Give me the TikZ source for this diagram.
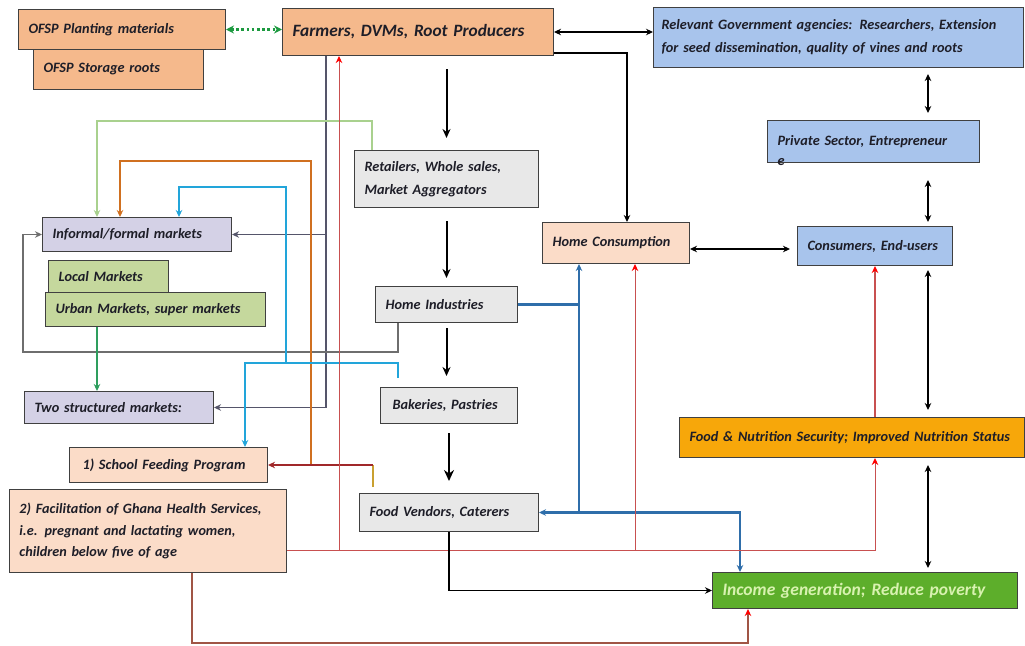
\documentclass[tikz,border=0pt]{standalone}
\usepackage{fontspec}
\setmainfont{Carlito}
\usetikzlibrary{shapes, arrows.meta}

\definecolor{boxline}{HTML}{404040}
\definecolor{boxtext}{HTML}{1E1E28}
\definecolor{peachfill}{HTML}{F5B98C}
\definecolor{lightpeach}{HTML}{FBDCC8}
\definecolor{bluefill}{HTML}{A8C4EC}
\definecolor{lavender}{HTML}{D4D1E6}
\definecolor{leaf}{HTML}{C5D89D}
\definecolor{greyfill}{HTML}{E8E8E8}
\definecolor{foodfill}{HTML}{F7A70A}
\definecolor{incomefill}{HTML}{5DAE2B}
\definecolor{incometext}{HTML}{D8F2B0}
\definecolor{slate}{HTML}{55556A}
\definecolor{loopgrey}{HTML}{6E6E6E}
\definecolor{lgreen}{HTML}{A9D18E}
\definecolor{dgreen}{HTML}{2E9E5E}
\definecolor{dotgreen}{HTML}{1D9A40}
\definecolor{orline}{HTML}{D07020}
\definecolor{goldline}{HTML}{C9A030}
\definecolor{darkred}{HTML}{A0282A}
\definecolor{cyanline}{HTML}{22A5DA}
\definecolor{blueline}{HTML}{2F6EAA}
\definecolor{redline}{HTML}{C85050}
\definecolor{brownline}{HTML}{A05545}

\tikzstyle{box} = [rectangle, draw=boxline, line width=1pt, anchor=north west, align=left, inner xsep=10pt, inner ysep=2pt, text=boxtext, font=\fontsize{14.3}{22}\selectfont\bfseries\itshape]
\tikzstyle{peachbox} = [box, fill=peachfill]
\tikzstyle{homebox} = [box, fill=lightpeach]
\tikzstyle{bluebox} = [box, fill=bluefill]
\tikzstyle{marketbox} = [box, fill=lavender]
\tikzstyle{leafbox} = [box, fill=leaf]
\tikzstyle{greybox} = [box, fill=greyfill]
\tikzstyle{link} = [line width=1.1pt, draw=black]
\tikzstyle{arrow} = [link, ->]
\tikzstyle{both} = [link, <->]
\tikzstyle{flow} = [draw=black, line width=2pt, -{Stealth[length=9pt,width=8pt]}]

\begin{document}
\begin{tikzpicture}[x=1pt, y=-1pt, >={Stealth[length=7pt,width=6.5pt]}]
    \useasboundingbox (0,0) rectangle (1025,645);

    % Nodes
    \node (planting) [peachbox, text width=187pt, minimum height=40pt] at (18,9) {OFSP Planting materials};
    \node (storage) [peachbox, text width=150pt, minimum height=40pt] at (33,49) {OFSP Storage roots};
    \node (farmers) [peachbox, text width=251pt, minimum height=47pt, font=\fontsize{17.3}{22}\selectfont\bfseries\itshape] at (282,8) {Farmers, DVMs, Root Producers};
    \node (gov) [bluebox, inner xsep=8pt, text width=354pt, minimum height=60pt, font=\fontsize{14.3}{23}\selectfont\bfseries\itshape] at (653,7) {Relevant Government agencies: Researchers, Extension\\for seed dissemination, quality of vines and roots};
    \node (private) [bluebox, text width=192pt, minimum height=42pt] at (767,120) {\rlap{\raisebox{-20pt}[0pt][0pt]{e}}Private Sector, Entrepreneur};
    \node (consumers) [bluebox, text width=135pt, minimum height=39pt] at (797,226) {Consumers, End-users};
    \node (hc) [homebox, text width=127pt, minimum height=41pt] at (542,222) {Home Consumption};
    \node (retailers) [greybox, text width=164pt, minimum height=57pt, font=\fontsize{14.3}{23}\selectfont\bfseries\itshape] at (354,150) {Retailers, Whole sales,\\Market Aggregators};
    \node (informal) [marketbox, text width=169pt, minimum height=34pt] at (42,217) {Informal/formal markets};
    \node (local) [leafbox, text width=100pt, minimum height=32pt] at (48,260) {Local Markets};
    \node (urban) [leafbox, text width=200pt, minimum height=34pt] at (45,292) {Urban Markets, super markets};
    \node (hi) [greybox, text width=122pt, minimum height=36pt] at (375,286) {Home Industries};
    \node (twomk) [marketbox, text width=169pt, minimum height=32pt] at (24,391) {Two structured markets:};
    \node (bakeries) [greybox, inner xsep=12pt, text width=113pt, minimum height=36pt] at (380,387) {Bakeries, Pastries};
    \node (school) [homebox, inner xsep=13pt, text width=172pt, minimum height=35pt] at (69,447) {1) School Feeding Program};
    \node (food) [box, fill=foodfill, text width=325pt, minimum height=40pt] at (679,417) {Food \& Nutrition Security; Improved Nutrition Status};
    \node (health) [homebox, text width=257pt, minimum height=83pt, font=\fontsize{14.2}{21.5}\selectfont\bfseries\itshape] at (9,489) {2) Facilitation of Ghana Health Services,\\i.e. pregnant and lactating women,\\children below five of age};
    \node (fv) [greybox, text width=159pt, minimum height=38pt] at (359,493) {Food Vendors, Caterers};
    \node (income) [box, fill=incomefill, text=incometext, text width=285pt, minimum height=36pt, font=\fontsize{17.5}{22}\selectfont\bfseries\itshape] at (712,572) {Income generation; Reduce poverty};

    % Bends
    \coordinate (colgrey) at (326,0);
    \coordinate (colright) at (928,0);
    \coordinate (colloop) at (398,0);
    \coordinate (loop) at (23,352);
    \coordinate (lgturn) at (372,121);
    \coordinate (lgdrop) at (97,121);
    \coordinate (orjoin) at (311,464.5);
    \coordinate (ordrop) at (120,161);
    \coordinate (fvup) at (373,0);
    \coordinate (cyjoin) at (286,363);
    \coordinate (cydrop) at (179,187);
    \coordinate (cyschool) at (245,0);
    \coordinate (redrow) at (339,550);
    \coordinate (redhc) at (635,550);
    \coordinate (hcin) at (627,0);
    \coordinate (bluecol) at (579,0);
    \coordinate (bluein) at (740,0);
    \coordinate (brownrow) at (192,643);
    \coordinate (brownin) at (748,0);

    % Arrows
    \draw [draw=dotgreen, line width=2.6pt, dash pattern=on 2.6pt off 2.6pt, {Stealth[length=8pt,width=8pt]}-{Stealth[length=8pt,width=8pt]}] (planting.east) -- (planting.east -| farmers.west);
    \draw [both] (farmers.east) -- (farmers.east -| gov.west);
    \draw [both, shorten <=6pt, shorten >=7pt] (gov.south -| colright) -- (private.north -| colright);
    \draw [both, shorten <=17pt, shorten >=4pt] (private.south -| colright) -- (consumers.north -| colright);
    \draw [both, line width=1.7pt, shorten >=7pt] ([yshift=-6pt]hc.east) -- ([yshift=-6pt]hc.east -| consumers.west);
    \draw [both, shorten <=4pt, shorten >=7pt] (consumers.south -| colright) -- (food.north -| colright);
    \draw [both, shorten <=7pt, shorten >=4pt] (food.south -| colright) -- (income.north -| colright);

    \draw [flow, shorten <=13pt, shorten >=12pt] (farmers.south -| retailers.north) -- (retailers.north);
    \draw [flow, shorten <=13pt, shorten >=8pt] (retailers.south) -- (hi.north);
    \draw [flow, shorten <=5pt, shorten >=11pt] (hi.south) -- (hi.south |- bakeries.north);
    \draw [flow, line width=2.7pt, -{Stealth[length=11pt,width=10pt]}, shorten <=9pt, shorten >=12pt] (bakeries.south) -- (bakeries.south |- fv.north);
    \draw [arrow] ([yshift=3pt]farmers.south east) -| (hcin |- hc.north);

    \draw [link, draw=slate, ->] (farmers.south -| colgrey) |- (twomk.east);
    \draw [link, draw=slate, ->] (colgrey |- informal.east) -- (informal.east);
    \draw [link, draw=loopgrey, ->] (hi.south -| colloop) |- (loop) |- (informal.west);

    \draw [link, draw=lgreen, ->] (retailers.north -| lgturn) |- (lgdrop) -- (lgdrop |- informal.north);
    \draw [link, draw=dgreen, ->] (urban.south -| lgdrop) -- (twomk.north -| lgdrop);

    \draw [link, draw=orline, line width=1.6pt, ->] (orjoin) |- (ordrop) -- (ordrop |- informal.north);
    \draw [link, draw=goldline, line width=1.6pt, shorten <=6pt] (fv.north -| fvup) -- (fvup |- school.east);
    \draw [link, draw=darkred, ->] (fvup |- school.east) -- (school.east);

    \draw [link, draw=cyanline, line width=2.2pt, ->, shorten <=9pt] (bakeries.north -| colloop) -- (colloop |- cyjoin) -| (school.north -| cyschool);
    \draw [link, draw=cyanline, line width=2.2pt, ->] (cyjoin) |- (cydrop) -- (cydrop |- informal.north);

    \draw [link, draw=blueline, line width=2.4pt, ->] (hi.east) -| (bluecol |- hc.south);
    \draw [link, draw=blueline, line width=2.4pt, ->] (hi.east -| bluecol) |- (fv.east);
    \draw [link, draw=blueline, line width=2.4pt, ->] (fv.east -| bluecol) -| (bluein |- income.north);

    \draw [link, draw=redline, line width=1pt, -{Stealth[length=7pt,width=6.5pt,color=red]}] (health.east |- redrow) -| (consumers.south |- food.south);
    \draw [link, draw=redline, line width=1pt, -{Stealth[length=7pt,width=6.5pt,color=red]}] (redrow) -- (redrow |- farmers.south);
    \draw [link, draw=redline, line width=1pt, -{Stealth[length=7pt,width=6.5pt,color=red]}] (redhc) -- (redhc |- hc.south);
    \draw [link, draw=redline, line width=1.2pt, -{Stealth[length=7pt,width=6.5pt,color=red]}] (food.north -| consumers.south) -- (consumers.south);
    \draw [link, draw=brownline, line width=1.3pt, -{Stealth[length=7pt,width=6.5pt,color=red]}] (health.south -| brownrow) -- (brownrow) -| (brownin |- income.south);
    \draw [arrow] (fv.south) |- (income.west);

  \end{tikzpicture}
\end{document}
